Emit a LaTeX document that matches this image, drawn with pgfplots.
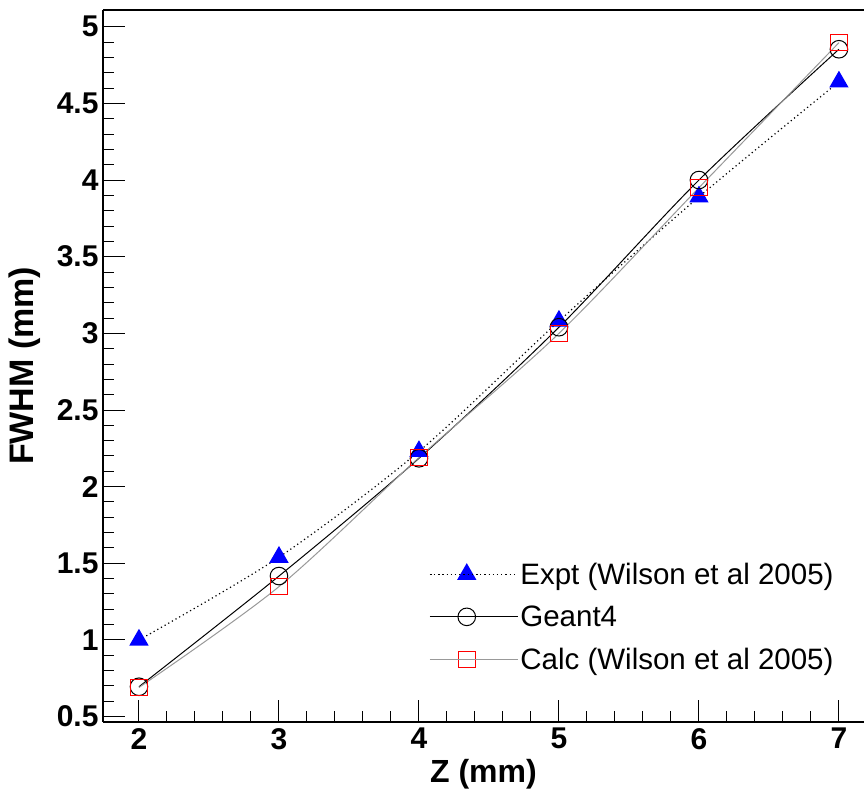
\documentclass[border=0pt]{standalone}
\usepackage{pgfplots}
\pgfplotsset{compat=1.18}
\usepackage{fontspec}
\setmainfont{Liberation Sans}
\begin{document}
\begin{tikzpicture}
\begin{axis}[
  scale only axis,
  width=761pt, height=711.7pt,
  xmin=1.743, xmax=7.179,
  ymin=0.467, ymax=5.109,
  axis x line*=box, axis y line*=left,
  axis line style={line width=1.6pt},
  xtick={2,3,4,5,6,7}, ytick={0.5,1,1.5,2,2.5,3,3.5,4,4.5,5},
  minor x tick num=4, minor y tick num=4,
  xtick pos=bottom, ytick pos=left,
  tick align=inside,
  major tick length=22pt, minor tick length=11pt,
  every tick/.style={line width=1pt, black},
  xticklabel style={font=\fontsize{30}{32}\selectfont\bfseries, yshift=-3pt},
  yticklabel style={font=\fontsize{30}{32}\selectfont\bfseries, xshift=-1pt},
  /pgf/number format/assume math mode=true,
  xlabel={Z (mm)}, ylabel={FWHM (mm)},
  xlabel style={font=\fontsize{32}{34}\selectfont\bfseries, at={(rel axis cs:0.5,0)}, anchor=center, yshift=-53pt},
  ylabel style={font=\fontsize{34}{36}\selectfont\bfseries, at={(rel axis cs:0,0.5)}, anchor=center, yshift=78pt},
  legend image code/.code={\draw[mark repeat=2,mark phase=2,#1] plot coordinates {(0pt,0pt) (37pt,0pt) (74pt,0pt)}; \path (0pt,0pt) -- (88pt,0pt);},
  legend style={draw=none, fill=none, font=\fontsize{29.5}{31}\selectfont,
    at={(axis cs:4.05,1.53)}, anchor=north west, row sep=16pt},
  legend cell align=left,
  clip=false,
]
\addplot[black, dash pattern=on 1.2pt off 3pt, line width=1.2pt, smooth, mark=triangle*, mark size=10pt,
  mark options={solid, fill=blue, draw=blue}] coordinates {
  (2,1.00) (3,1.54) (4,2.23) (5,3.08) (6,3.89) (7,4.64)};
\addlegendentry{Expt (Wilson et al 2005)}
\addplot[black, line width=1pt, smooth, mark=o, mark size=8.8pt,
  mark options={solid, draw=black}] coordinates {
  (2,0.695) (3,1.417) (4,2.185) (5,3.04) (6,4.00) (7,4.853)};
\addlegendentry{Geant4}
\addplot[gray!80, line width=1pt, smooth, mark=square, mark size=8.3pt,
  mark options={solid, draw=red}] coordinates {
  (2,0.69) (3,1.348) (4,2.19) (5,3.00) (6,3.95) (7,4.896)};
\addlegendentry{Calc (Wilson et al 2005)}
\coordinate (sw) at (rel axis cs:0,0);
\coordinate (ne) at (rel axis cs:1,1);
\end{axis}
\pgfresetboundingbox
\path[use as bounding box] ([shift={(-103pt,-78.3pt)}]sw) rectangle ([shift={(0pt,10pt)}]ne);
\end{tikzpicture}
\end{document}
